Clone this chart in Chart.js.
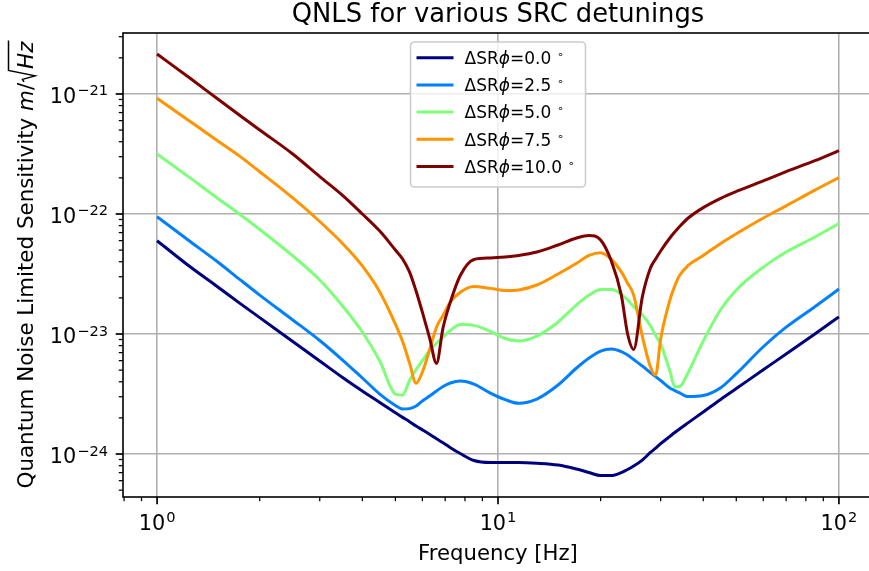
<!DOCTYPE html>
<html>
<head>
<meta charset="utf-8">
<script src="https://cdn.jsdelivr.net/npm/chart.js@4.4.0/dist/chart.umd.min.js"></script>
<style>
html, body { margin: 0; padding: 0; background: #fff; overflow: hidden; }
#wrap { width: 869px; height: 571px; overflow: hidden; }
canvas { display: block; }
</style>
</head>
<body>
<div id="wrap"><canvas id="qnls" width="880" height="571" style="width:880px;height:571px"></canvas></div>
<script>
// frequencies (Hz) shared by all curves
const freqHz = [1, 1.25, 1.5, 1.75, 2, 2.5, 3, 3.5, 4, 4.5, 5, 5.25, 5.5, 5.75, 6, 6.3, 6.6, 6.9, 7.25, 7.75,
    8.5, 9.5, 10.5, 11.5, 13, 15, 17, 18.5, 20, 21.5, 23, 24, 25, 26.5, 28, 29, 30, 32, 33, 34,
    36, 40, 45, 50, 60, 70, 85, 100];

const detuningDeg = ['0.0', '2.5', '5.0', '7.5', '10.0'];

// noise in m/sqrt(Hz), one list per detuning
const qnls_0p0 = [5.99e-23, 3.63e-23, 2.49e-23, 1.80e-23, 1.37e-23, 8.66e-24, 5.96e-24, 4.34e-24, 3.35e-24, 2.69e-24,
    2.21e-24, 2.02e-24, 1.86e-24, 1.71e-24, 1.59e-24, 1.46e-24, 1.34e-24, 1.24e-24, 1.13e-24, 1.01e-24,
    8.83e-25, 8.49e-25, 8.49e-25, 8.49e-25, 8.38e-25, 8.10e-25, 7.50e-25, 7.01e-25, 6.62e-25, 6.62e-25,
    7.01e-25, 7.43e-25, 7.94e-25, 8.91e-25, 1.03e-24, 1.12e-24, 1.22e-24, 1.41e-24, 1.51e-24, 1.61e-24,
    1.81e-24, 2.24e-24, 2.85e-24, 3.51e-24, 5.04e-24, 6.81e-24, 1.0e-23, 1.39e-23];
const qnls_2p5 = [9.49e-23, 5.90e-23, 4.02e-23, 2.84e-23, 2.11e-23, 1.31e-23, 8.83e-24, 6.07e-24, 4.30e-24, 3.16e-24,
    2.54e-24, 2.37e-24, 2.39e-24, 2.51e-24, 2.77e-24, 3.04e-24, 3.35e-24, 3.65e-24, 3.91e-24, 4.06e-24,
    3.83e-24, 3.22e-24, 2.84e-24, 2.65e-24, 2.87e-24, 3.76e-24, 5.21e-24, 6.31e-24, 7.21e-24, 7.50e-24,
    7.14e-24, 6.68e-24, 6.13e-24, 5.41e-24, 4.77e-24, 4.41e-24, 4.10e-24, 3.53e-24, 3.38e-24, 3.25e-24,
    3.01e-24, 3.07e-24, 3.57e-24, 4.67e-24, 7.83e-24, 1.14e-23, 1.69e-23, 2.37e-23];
const qnls_5p0 = [3.16e-22, 2.00e-22, 1.36e-22, 9.90e-23, 7.43e-23, 4.47e-23, 2.82e-23, 1.71e-23, 1.04e-23, 5.96e-24,
    3.16e-24, 3.10e-24, 4.10e-24, 5.06e-24, 5.99e-24, 7.29e-24, 8.37e-24, 9.44e-24, 1.07e-23, 1.20e-23,
    1.18e-23, 1.05e-23, 9.17e-24, 8.75e-24, 9.62e-24, 1.26e-23, 1.75e-23, 2.11e-23, 2.35e-23, 2.35e-23,
    2.15e-23, 1.92e-23, 1.69e-23, 1.45e-23, 1.17e-23, 9.70e-24, 8.25e-24, 4.80e-24, 3.64e-24, 3.64e-24,
    4.69e-24, 8.75e-24, 1.60e-23, 2.33e-23, 3.61e-23, 4.82e-23, 6.43e-23, 8.34e-23];
const qnls_7p5 = [9.21e-22, 5.90e-22, 4.10e-22, 3.02e-22, 2.25e-22, 1.36e-22, 8.66e-23, 5.68e-23, 3.69e-23, 2.24e-23,
    1.21e-23, 8.66e-24, 5.75e-24, 3.88e-24, 4.82e-24, 7.41e-24, 1.14e-23, 1.43e-23, 1.85e-23, 2.23e-23,
    2.49e-23, 2.40e-23, 2.30e-23, 2.33e-23, 2.56e-23, 3.16e-23, 3.88e-23, 4.53e-23, 4.76e-23, 4.19e-23,
    3.29e-23, 2.65e-23, 2.11e-23, 9.62e-24, 5.32e-24, 4.55e-24, 9.08e-24, 1.96e-23, 2.51e-23, 3.04e-23,
    3.69e-23, 4.51e-23, 5.68e-23, 6.84e-23, 9.25e-23, 1.17e-22, 1.58e-22, 2.01e-22];
const qnls_10p0 = [2.15e-21, 1.35e-21, 9.17e-22, 6.62e-22, 5.01e-22, 3.16e-22, 2.05e-22, 1.43e-22, 1.00e-22, 7.20e-23,
    5.01e-23, 4.22e-23, 3.29e-23, 2.28e-23, 1.52e-23, 9.27e-24, 5.70e-24, 1.13e-23, 1.85e-23, 3.07e-23,
    4.18e-23, 4.30e-23, 4.38e-23, 4.51e-23, 4.82e-23, 5.52e-23, 6.31e-23, 6.62e-23, 6.07e-23, 4.06e-23,
    2.11e-23, 1.0e-23, 7.43e-24, 2.03e-23, 3.55e-23, 4.22e-23, 4.92e-23, 6.37e-23, 7.08e-23, 7.79e-23,
    9.17e-23, 1.13e-22, 1.35e-22, 1.54e-22, 1.89e-22, 2.25e-22, 2.78e-22, 3.37e-22];

// labelled decades on each axis (10^n)
const xDecades = [0, 1, 2];
const yDecades = [-24, -23, -22, -21];

const series = [qnls_0p0, qnls_2p5, qnls_5p0, qnls_7p5, qnls_10p0];
const jetColors = ['#00007f', '#0080ff', '#7dff7a', '#ff9400', '#7f0000'];

const FONT = '"DejaVu Sans"';

function logTicks(scale, decades) {
    const lo = Math.floor(Math.log10(scale.min));
    const hi = Math.floor(Math.log10(scale.max));
    const ticks = [];
    for (let n = lo; n <= hi; n++) {
        for (let k = 1; k <= 9; k++) {
            const v = k * Math.pow(10, n);
            if (v >= scale.min && v <= scale.max) {
                ticks.push({ value: v, major: k === 1 && decades.includes(n) });
            }
        }
    }
    scale.ticks = ticks;
}

// "10" with a raised exponent, like matplotlib's mathtext
function drawPow10(ctx, exp, x, baseY, align) {
    const base = '10';
    const sup = String(exp).replace('-', '\u2212');
    ctx.font = '20.8px ' + FONT;
    const wb = ctx.measureText(base).width;
    ctx.font = '14.6px ' + FONT;
    const ws = ctx.measureText(sup).width;
    const total = wb + 1 + ws;
    const x0 = align === 'right' ? x - total : x - total / 2;
    ctx.textAlign = 'left';
    ctx.textBaseline = 'alphabetic';
    ctx.font = '20.8px ' + FONT;
    ctx.fillText(base, x0, baseY);
    ctx.font = '14.6px ' + FONT;
    ctx.fillText(sup, x0 + wb + 1, baseY - 7.5);
}

const axesDeco = {
    id: 'axesDeco',
    afterDraw(chart) {
        const { ctx, chartArea: ca } = chart;
        const xs = chart.scales.x, ys = chart.scales.y;
        ctx.save();
        ctx.fillStyle = '#000';
        ctx.strokeStyle = '#000';

        // spines
        ctx.lineWidth = 1.6;
        ctx.strokeRect(ca.left, ca.top, ca.right - ca.left, ca.bottom - ca.top);

        // tick marks
        xs.ticks.forEach(t => {
            const px = xs.getPixelForValue(t.value);
            ctx.lineWidth = t.major ? 1.7 : 1.25;
            ctx.beginPath();
            ctx.moveTo(px, ca.bottom);
            ctx.lineTo(px, ca.bottom + (t.major ? 7.3 : 4.2));
            ctx.stroke();
            if (t.major) drawPow10(ctx, Math.round(Math.log10(t.value)), px, ca.bottom + 32.7, 'center');
        });
        ys.ticks.forEach(t => {
            const py = ys.getPixelForValue(t.value);
            ctx.lineWidth = t.major ? 1.7 : 1.25;
            ctx.beginPath();
            ctx.moveTo(ca.left, py);
            ctx.lineTo(ca.left - (t.major ? 7.3 : 4.2), py);
            ctx.stroke();
            if (t.major) drawPow10(ctx, Math.round(Math.log10(t.value)), ca.left - 15, py + 9, 'right');
        });

        const cx = (ca.left + ca.right) / 2;

        // title
        ctx.textAlign = 'center';
        ctx.textBaseline = 'alphabetic';
        ctx.font = '25.8px ' + FONT;
        ctx.fillText('QNLS for various SRC detunings', cx, 22);

        // x label
        ctx.font = '21.2px ' + FONT;
        ctx.fillText('Frequency [Hz]', cx, 560);

        // y label with m/sqrt(Hz)
        const plain = 'Quantum Noise Limited Sensitivity ';
        const reg = '21.4px ' + FONT, ita = 'italic 21.4px ' + FONT;
        ctx.font = reg;
        const wPlain = ctx.measureText(plain).width;
        const wSlash = ctx.measureText('/').width;
        ctx.font = ita;
        const wM = ctx.measureText('m').width;
        const wHz = ctx.measureText('Hz').width;
        const wRad = 14;
        const total = wPlain + wM + wSlash + wRad + wHz;
        ctx.translate(33, (ca.top + ca.bottom) / 2);
        ctx.rotate(-Math.PI / 2);
        let x = -total / 2;
        ctx.textAlign = 'left';
        ctx.font = reg;
        ctx.fillText(plain, x, 0); x += wPlain;
        ctx.font = ita;
        ctx.fillText('m', x, 0); x += wM;
        ctx.font = reg;
        ctx.fillText('/', x, 0); x += wSlash;
        ctx.lineWidth = 1.5;
        ctx.beginPath();
        ctx.moveTo(x + 1, -9);
        ctx.lineTo(x + 3.5, -10.5);
        ctx.lineTo(x + 7, 2);
        ctx.lineTo(x + 12.5, -24.5);
        ctx.lineTo(x + wRad + wHz + 1, -24.5);
        ctx.stroke();
        x += wRad;
        ctx.font = ita;
        ctx.fillText('Hz', x, 0);
        ctx.restore();
    }
};

const legendBox = {
    id: 'legendBox',
    afterDraw(chart) {
        const { ctx, chartArea: ca } = chart;
        const fs = 17;
        const bw = 175, bh = 145;
        const bx = (ca.left + ca.right) / 2 - bw / 2;
        const by = ca.top + 9;
        ctx.save();
        ctx.beginPath();
        ctx.roundRect(bx, by, bw, bh, 4);
        ctx.fillStyle = 'rgba(255,255,255,0.8)';
        ctx.fill();
        ctx.strokeStyle = '#cccccc';
        ctx.lineWidth = 1.6;
        ctx.stroke();

        chart.data.datasets.forEach((ds, i) => {
            const ry = by + 15.7 + i * 27.2;
            ctx.strokeStyle = ds.borderColor;
            ctx.lineWidth = 3;
            ctx.beginPath();
            ctx.moveTo(bx + 6, ry);
            ctx.lineTo(bx + 43, ry);
            ctx.stroke();

            let tx = bx + 54;
            const bl = ry + 6.3;
            ctx.fillStyle = '#000';
            ctx.textAlign = 'left';
            ctx.textBaseline = 'alphabetic';
            ctx.font = fs + 'px ' + FONT;
            ctx.fillText('\u0394SR', tx, bl); tx += ctx.measureText('\u0394SR').width;
            ctx.font = 'italic ' + fs + 'px ' + FONT;
            ctx.fillText('\u03d5', tx, bl); tx += ctx.measureText('\u03d5').width;
            ctx.font = fs + 'px ' + FONT;
            const val = '=' + detuningDeg[i] + ' ';
            ctx.fillText(val, tx, bl); tx += ctx.measureText(val).width;
            ctx.font = '11px ' + FONT;
            ctx.fillText('\u2218', tx, bl - 6);
        });
        ctx.restore();
    }
};

const chart = new Chart(document.getElementById('qnls').getContext('2d'), {
    type: 'line',
    data: {
        labels: freqHz,
        datasets: series.map((vals, i) => ({
            label: 'ΔSRϕ=' + detuningDeg[i] + '°',
            data: vals,
            borderColor: jetColors[i],
            backgroundColor: jetColors[i],
            borderWidth: 3,
            pointRadius: 0,
            fill: false,
            cubicInterpolationMode: 'monotone',
            borderJoinStyle: 'round',
            order: series.length - i,
        })),
    },
    options: {
        responsive: false,
        animation: false,
        devicePixelRatio: 1,
        layout: { padding: { left: 0, right: 7, top: 33, bottom: 0 } },
        plugins: {
            legend: { display: false },
            title: { display: false },
            tooltip: { enabled: false },
        },
        scales: {
            x: {
                type: 'logarithmic',
                min: Math.pow(10, -0.1),
                max: Math.pow(10, 2.1),
                bounds: 'data',
                afterBuildTicks: s => logTicks(s, xDecades),
                afterFit: s => { s.height = 74; },
                ticks: { display: false },
                grid: {
                    color: c => (c.tick && c.tick.major) ? '#b0b0b0' : 'rgba(0,0,0,0)',
                    lineWidth: 1.6,
                    drawTicks: false,
                },
                border: { display: false },
            },
            y: {
                type: 'logarithmic',
                min: Math.pow(10, -24.358),
                max: Math.pow(10, -20.492),
                bounds: 'data',
                afterBuildTicks: s => logTicks(s, yDecades),
                afterFit: s => { s.width = 123; },
                ticks: { display: false },
                grid: {
                    color: c => (c.tick && c.tick.major) ? '#b0b0b0' : 'rgba(0,0,0,0)',
                    lineWidth: 1.6,
                    drawTicks: false,
                },
                border: { display: false },
            },
        },
    },
    plugins: [axesDeco, legendBox],
});
</script>
</body>
</html>
